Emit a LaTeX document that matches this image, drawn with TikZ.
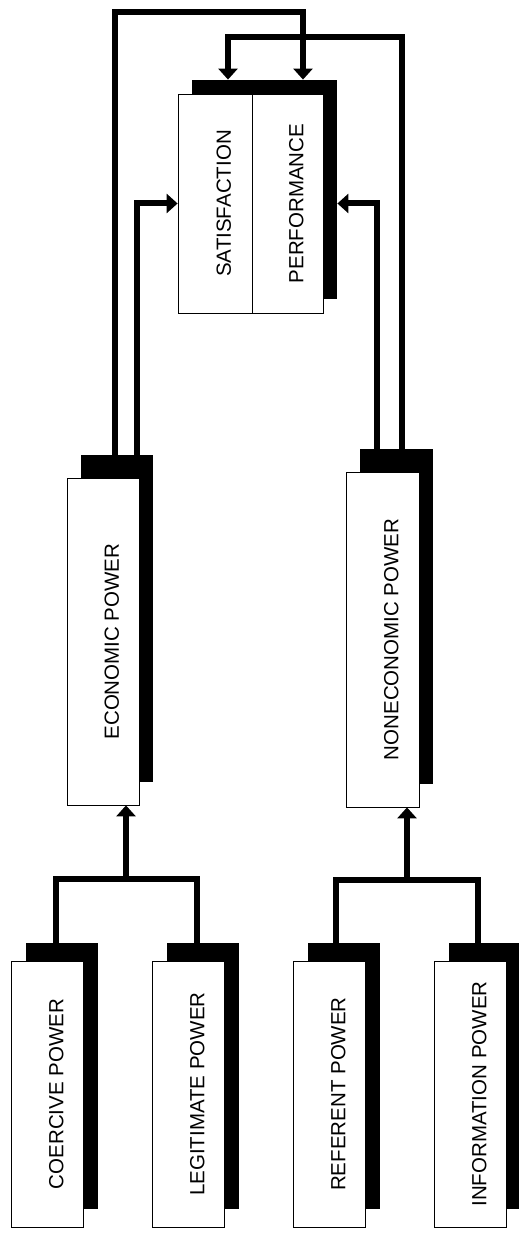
\documentclass[tikz,border=0pt]{standalone}
\usepackage{fontspec}
\setmainfont{Liberation Sans}
\usetikzlibrary{arrows.meta, calc, shadows}

\newcommand{\boxtext}[1]{\rotatebox{90}{\rule{0pt}{32pt}#1}}

\begin{document}
\begin{tikzpicture}[
  x=1pt, y=1pt,
  powbox/.style={draw=black, line width=0.8pt, fill=white, inner sep=0pt,
    minimum width=72pt, font=\fontsize{20.5}{24}\selectfont,
    drop shadow={shadow xshift=14pt, shadow yshift=#1, fill=black, opacity=1}},
  powbox/.default=18pt,
  link/.style={line width=6pt, draw=black},
  arr/.style={link, -{Triangle[width=19pt, length=11pt]}}
]
  \useasboundingbox[fill=white] (0,0) rectangle (519,1236);

  % outcome boxes
  \node[powbox=14pt, minimum width=74pt, minimum height=219pt] (sat) at (215,1032.5) {\boxtext{SATISFACTION}};
  \node[powbox=14pt, minimum width=71pt, minimum height=219pt] (perf) at (287.5,1032.5) {\boxtext{PERFORMANCE}};

  % economic and noneconomic power
  \node[powbox=23pt, minimum height=327pt] (econ) at (103,594.5) {\boxtext{ECONOMIC POWER}};
  \node[powbox=23pt, minimum width=73pt, minimum height=335pt] (nonecon) at (382.5,596.5) {\boxtext{NONECONOMIC POWER}};

  % bases of power
  \node[powbox, minimum height=266pt] (coer) at (47.5,142) {\boxtext{COERCIVE POWER}};
  \node[powbox, minimum height=266pt] (legit) at (188.5,142) {\boxtext{LEGITIMATE POWER}};
  \node[powbox, minimum height=266pt] (refer) at (329.5,142) {\boxtext{REFERENT POWER}};
  \node[powbox, minimum height=266pt] (info) at (470.5,142) {\boxtext{INFORMATION POWER}};

  % joins under the middle boxes
  \coordinate (ej) at ($(econ.south)+(23pt,-74pt)$);
  \coordinate (nj) at ($(nonecon.south)+(24.5pt,-73pt)$);

  % bases -> economic / noneconomic
  \draw[link] ($(coer.north)+(8.5pt,18pt)$) |- (ej) -| ($(legit.north)+(8.5pt,18pt)$);
  \draw[arr] (ej) -- (econ.south -| ej);
  \draw[link] ($(refer.north)+(6.5pt,18pt)$) |- (nj) -| ($(info.north)+(7.5pt,18pt)$);
  \draw[arr] (nj) -- (nonecon.south -| nj);

  % economic power -> satisfaction, performance
  \draw[arr] ($(econ.north)+(34pt,23pt)$) |- (sat.west);
  \draw[arr] ($(econ.north)+(12pt,23pt)$) |- ($(perf.north)+(15.5pt,82pt)$) -- ($(perf.north)+(15.5pt,14pt)$);

  % noneconomic power -> performance, satisfaction
  \draw[arr] ($(nonecon.north)+(-5.5pt,23pt)$) |- ($(perf.east)+(14pt,0pt)$);
  \draw[arr] ($(nonecon.north)+(19.5pt,23pt)$) |- ($(sat.north)+(13pt,57pt)$) -- ($(sat.north)+(13pt,14pt)$);
\end{tikzpicture}
\end{document}
